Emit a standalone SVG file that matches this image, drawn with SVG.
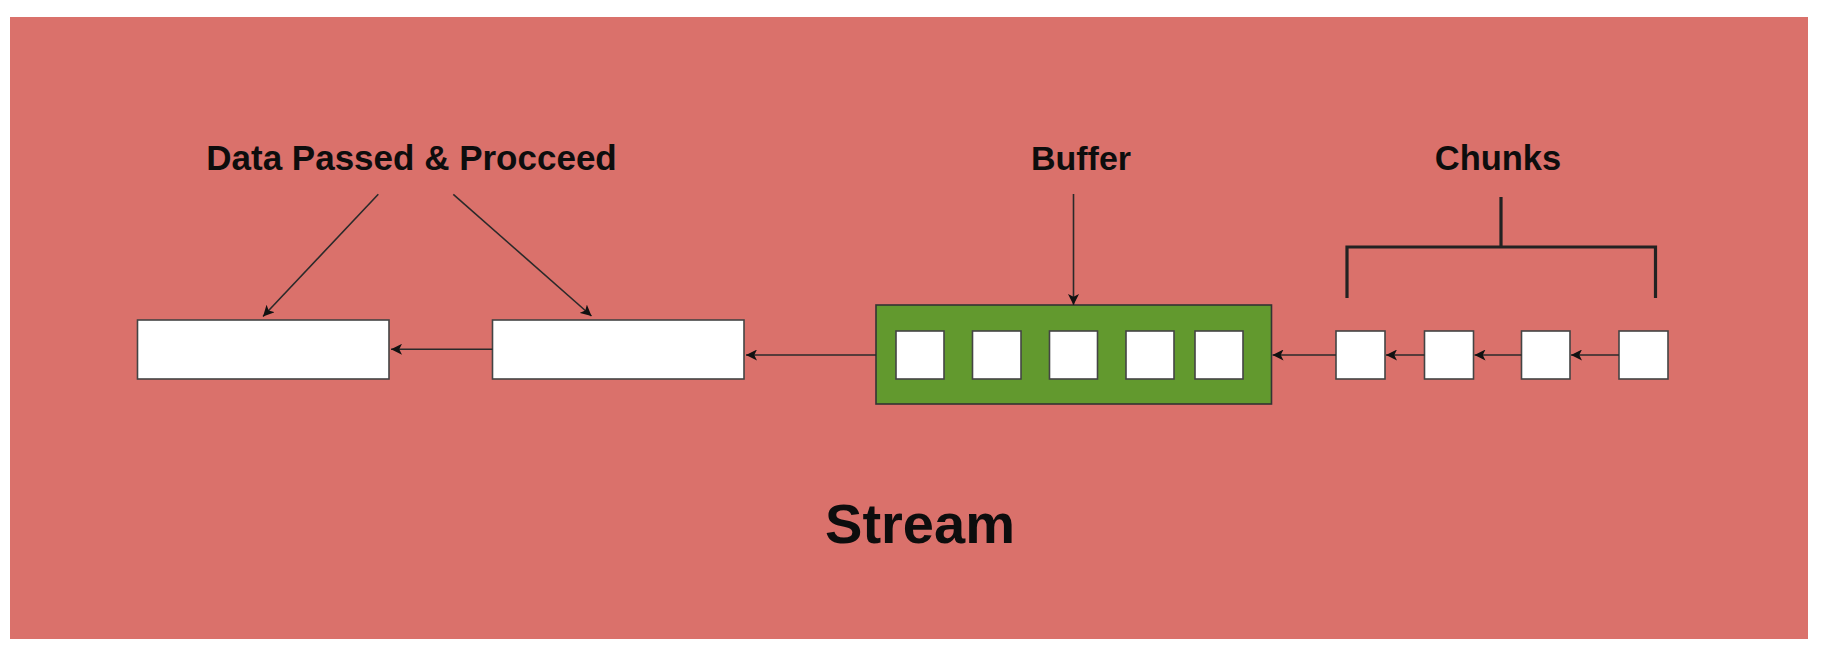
<svg xmlns="http://www.w3.org/2000/svg" width="1828" height="652" viewBox="0 0 1828 652">
<defs>
<style>
.lbl{font-family:"Liberation Sans",Arial,sans-serif;font-weight:bold;fill:#0d0d0d;text-anchor:middle}
.box{fill:#fff;stroke:#444;stroke-width:1.6}
.cn{stroke:#2a2a2a;stroke-width:1.6;fill:none}
.br{stroke:#222;stroke-width:3.2;fill:none}
</style>
<marker id="ah" viewBox="0 0 10 10" refX="10" refY="5" markerWidth="11" markerHeight="11" markerUnits="userSpaceOnUse" orient="auto">
<path d="M0,0 L10,5 L0,10 L2.5,5 Z" fill="#111"/>
</marker>
</defs>
<rect x="0" y="0" width="1828" height="652" fill="#fff"/>
<rect id="background" x="10" y="17" width="1798" height="622" fill="#DA716B"/>
<g id="label-data"><text class="lbl" x="411.5" y="170" font-size="35">Data Passed &amp; Procceed</text></g>
<g id="label-buffer"><text class="lbl" x="1081" y="170" font-size="34">Buffer</text></g>
<g id="label-chunks"><text class="lbl" x="1498" y="170" font-size="34.5">Chunks</text></g>
<g id="label-stream"><text class="lbl" x="920" y="543" font-size="56">Stream</text></g>
<g id="box1"><rect class="box" x="137.5" y="320" width="251.5" height="59"/></g>
<g id="box2"><rect class="box" x="492.5" y="320" width="251.5" height="59"/></g>
<g id="buffer">
<rect x="876" y="305" width="395.5" height="99" fill="#62992E" stroke="#333" stroke-width="1.6"/>
<rect class="box" x="896" y="331" width="48" height="48"/>
<rect class="box" x="972.5" y="331" width="48.5" height="48"/>
<rect class="box" x="1049.5" y="331" width="48" height="48"/>
<rect class="box" x="1126" y="331" width="48" height="48"/>
<rect class="box" x="1195" y="331" width="48" height="48"/>
</g>
<g id="chunk1"><rect class="box" x="1336" y="331" width="49" height="48"/></g>
<g id="chunk2"><rect class="box" x="1424.5" y="331" width="49" height="48"/></g>
<g id="chunk3"><rect class="box" x="1521.5" y="331" width="48.5" height="48"/></g>
<g id="chunk4"><rect class="box" x="1619" y="331" width="49" height="48"/></g>
<g id="connectors">
<line class="cn" x1="378.3" y1="194.3" x2="263" y2="316.5" marker-end="url(#ah)" stroke-width="1.4"/>
<line class="cn" x1="453.3" y1="194.3" x2="591.5" y2="316" marker-end="url(#ah)" stroke-width="1.2"/>
<line class="cn" x1="1073.5" y1="194" x2="1073.5" y2="305" marker-end="url(#ah)"/>
<line class="cn" x1="492.5" y1="349.3" x2="391" y2="349.3" marker-end="url(#ah)"/>
<line class="cn" x1="876" y1="355" x2="746" y2="355" marker-end="url(#ah)"/>
<line class="cn" x1="1336" y1="355" x2="1272.5" y2="355" marker-end="url(#ah)"/>
<line class="cn" x1="1424.5" y1="355" x2="1386" y2="355" marker-end="url(#ah)"/>
<line class="cn" x1="1521.5" y1="355" x2="1474.5" y2="355" marker-end="url(#ah)"/>
<line class="cn" x1="1619" y1="355" x2="1571" y2="355" marker-end="url(#ah)"/>
<path class="br" d="M1501,197 V247 M1347,298 V247 H1655.5 V298"/>
</g>
</svg>
